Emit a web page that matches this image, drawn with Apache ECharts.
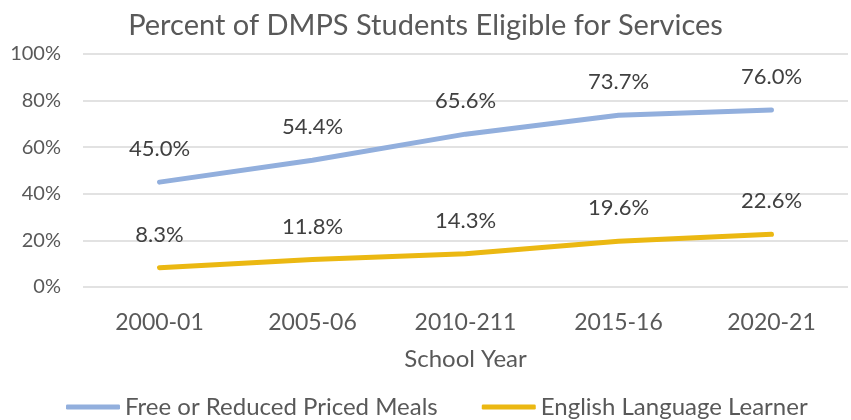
<!DOCTYPE html>
<html>
<head>
<meta charset="utf-8">
<script src="https://cdn.jsdelivr.net/npm/echarts@6/dist/echarts.min.js"></script>
<style>html,body{margin:0;padding:0;background:#fff}#c{width:851px;height:420px}</style>
</head>
<body>
<div id="c"></div>
<script>
const categories = ['2000-01', '2005-06', '2010-211', '2015-16', '2020-21'];
const freeMeals = [45.0, 54.4, 65.6, 73.7, 76.0];
const ell = [8.3, 11.8, 14.3, 19.6, 22.6];
const yTicks = [0, 20, 40, 60, 80, 100];

const font = 'Lato, "Open Sans", sans-serif';
const chart = echarts.init(document.getElementById('c'));
const labelCfg = {
  show: true, position: 'top', distance: 22,
  formatter: p => p.value.toFixed(1) + '%',
  fontFamily: font, fontSize: 22, color: '#404040'
};
chart.setOption({
  animation: false,
  title: {
    text: 'Percent of DMPS Students Eligible for Services',
    left: 'center', top: 6,
    textStyle: {fontFamily: font, fontSize: 29, fontWeight: 'normal', color: '#595959'}
  },
  grid: {left: 83, right: 3, top: 54, bottom: 133},
  legend: {
    top: 395, left: 66, padding: 0, itemWidth: 54, itemHeight: 5, itemGap: 44,
    icon: 'roundRect',
    textStyle: {fontFamily: font, fontSize: 24, color: '#595959'},
    data: ['Free or Reduced Priced Meals', 'English Language Learner']
  },
  xAxis: {
    type: 'category', data: categories,
    name: 'School Year', nameLocation: 'middle', nameGap: 60,
    nameTextStyle: {fontFamily: font, fontSize: 24, color: '#595959'},
    axisLine: {show: false}, axisTick: {show: false},
    axisLabel: {fontFamily: font, fontSize: 23, color: '#595959', margin: 24}
  },
  yAxis: {
    type: 'value', min: yTicks[0], max: yTicks[yTicks.length - 1], interval: 20,
    axisLine: {show: false}, axisTick: {show: false},
    axisLabel: {fontFamily: font, fontSize: 20, color: '#595959', margin: 22, formatter: v => v + '%'},
    splitLine: {lineStyle: {color: '#d9d9d9', width: 1.5}}
  },
  series: [
    {
      name: 'Free or Reduced Priced Meals', type: 'line', data: freeMeals,
      symbol: 'circle', symbolSize: 0, showSymbol: true,
      lineStyle: {width: 5, color: '#92AFDD', cap: 'round'},
      itemStyle: {color: '#92AFDD'},
      label: labelCfg
    },
    {
      name: 'English Language Learner', type: 'line', data: ell,
      symbol: 'circle', symbolSize: 0, showSymbol: true,
      lineStyle: {width: 5, color: '#EBB812', cap: 'round'},
      itemStyle: {color: '#EBB812'},
      label: labelCfg
    }
  ]
});
</script>
</body>
</html>
